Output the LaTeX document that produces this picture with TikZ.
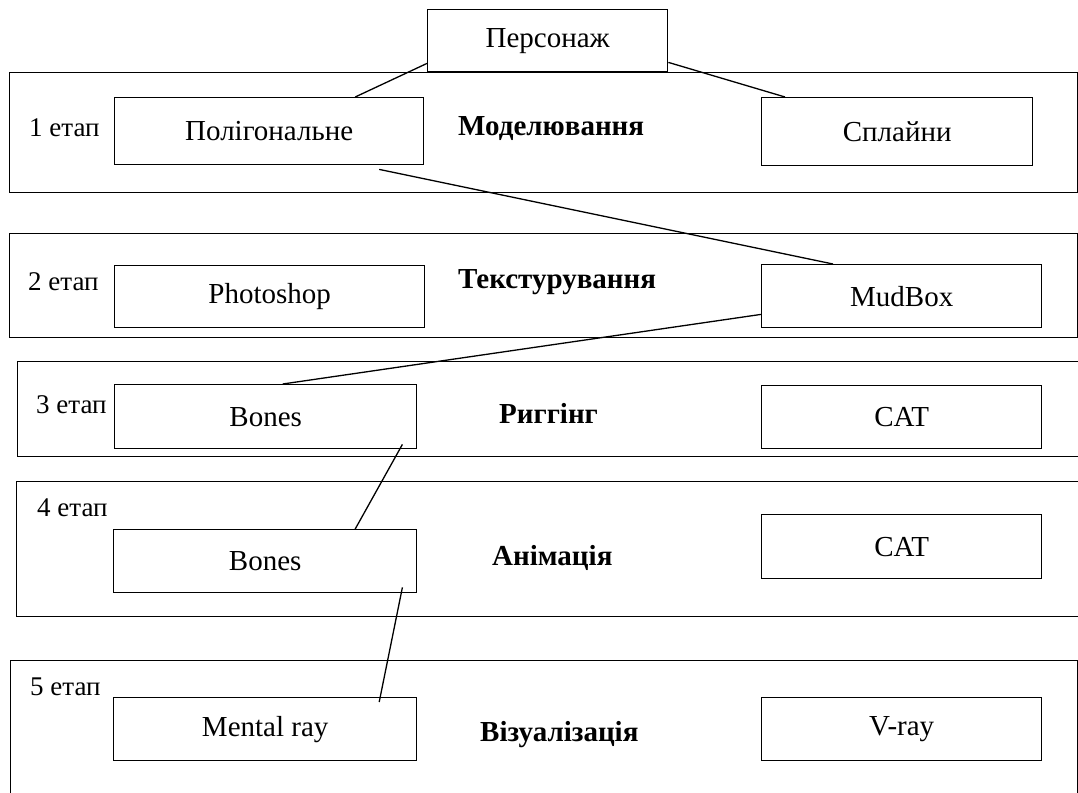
\documentclass[tikz,border=0pt]{standalone}
\usepackage{fontspec}
\setmainfont{Liberation Serif}
\usetikzlibrary{calc}

\begin{document}
\begin{tikzpicture}[x=1pt,y=-1pt,
    stage/.style={line width=1pt},
    tool/.style={draw,line width=1.4pt,inner sep=0pt,anchor=north west,font=\fontsize{29}{34}\selectfont},
    etap/.style={anchor=west,inner sep=0pt,font=\fontsize{27}{32}\selectfont},
    phase/.style={anchor=west,inner sep=0pt,font=\fontsize{29}{34}\selectfont\bfseries},
    link/.style={line width=1.3pt}]
    \useasboundingbox (0,0) rectangle (1078,792);

    \draw[stage] (9,72) rectangle (1077,192);
    \draw[stage] (9,233) rectangle (1077,337);
    \draw[stage] (17,361) rectangle (1095,456);
    \draw[stage] (16,481) rectangle (1095,616);
    \draw[stage] (10,660) rectangle (1077,805);

    \node[tool,minimum width=240pt,minimum height=62pt] (persona) at (427,9) {Персонаж};

    \node[etap] (etap1) at (29,128) {1 етап};
    \node[phase] (model) at (458,129) {Моделювання};
    \node[tool,minimum width=309pt,minimum height=67pt] (poly) at (114,97) {Полігональне};
    \node[tool,minimum width=271pt,minimum height=68pt] (splines) at (761,97) {Сплайни};

    \node[etap] (etap2) at (28,282) {2 етап};
    \node[phase] (texture) at (458,282) {Текстурування};
    \node[tool,minimum width=310pt,minimum height=62pt] (photoshop) at (114,265) {Photoshop};
    \node[tool,minimum width=280pt,minimum height=63pt] (mudbox) at (761,264) {MudBox};

    \node[etap] (etap3) at (36,405) {3 етап};
    \node[phase] (rig) at (499,413) {Риггінг};
    \node[tool,minimum width=302pt,minimum height=64pt] (bonesr) at (114,384) {Bones};
    \node[tool,minimum width=280pt,minimum height=63pt] (catr) at (761,385) {CAT};

    \node[etap] (etap4) at (37,508) {4 етап};
    \node[phase] (anim) at (492,558) {Анімація};
    \node[tool,minimum width=303pt,minimum height=63pt] (bonesa) at (113,529) {Bones};
    \node[tool,minimum width=280pt,minimum height=64pt] (cata) at (761,514) {CAT};

    \node[etap] (etap5) at (30,687) {5 етап};
    \node[phase] (render) at (480,735) {Візуалізація};
    \node[tool,minimum width=303pt,minimum height=63pt] (mental) at (113,697) {Mental ray};
    \node[tool,minimum width=280pt,minimum height=63pt] (vray) at (761,697) {V-ray};

    \draw[link] ([yshift=9pt]persona.south west) -- ([xshift=86pt]poly.north);
    \draw[link] ([yshift=10pt]persona.south east) -- ([xshift=24pt]splines.north west);
    \draw[link] ([xshift=110pt,yshift=-4pt]poly.south) -- ([xshift=72pt]mudbox.north west);
    \draw[link] ([yshift=14pt]mudbox.south west) -- ([xshift=17pt]bonesr.north);
    \draw[link] ([xshift=-15pt,yshift=5pt]bonesr.south east) -- ([xshift=90pt]bonesa.north);
    \draw[link] ([xshift=-15pt,yshift=6pt]bonesa.south east) -- ([xshift=114pt,yshift=-5pt]mental.north);
\end{tikzpicture}
\end{document}
